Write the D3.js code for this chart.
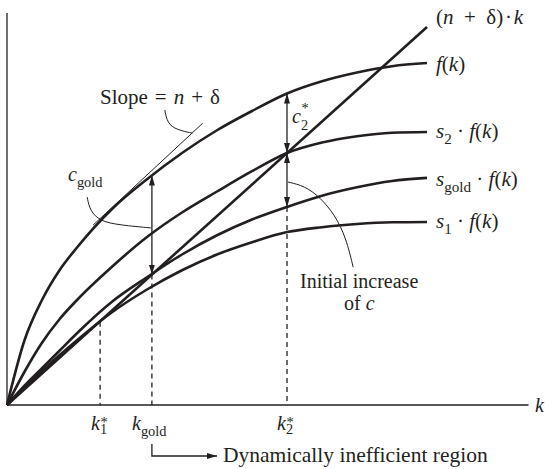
<!DOCTYPE html>
<html><head><meta charset="utf-8">
<script src="https://cdn.jsdelivr.net/npm/d3@7"></script>
<style>
body{margin:0;background:#fff}
text{font-family:"Liberation Serif","Times New Roman",serif;fill:#231f20}
</style>
</head><body>
<svg id="chart" width="545" height="469"></svg>
<script>
// ---- data (k on the horizontal axis, value on the vertical axis) ----
const kGrid     = [0, 0.5, 1, 1.5, 2, 3, 4, 5, 6, 7, 8, 9, 10, 11, 12];
const fVals     = [0, 1.85, 3.0, 3.85, 4.5, 5.6, 6.45, 7.2, 7.85, 8.4, 8.9, 9.25, 9.5, 9.68, 9.77];
const s2Vals    = [0, 0.95, 1.78, 2.45, 3.0, 3.95, 4.8, 5.5, 6.1, 6.68, 7.2, 7.5, 7.68, 7.78, 7.8];
const sGoldVals = [0, 0.55, 1.05, 1.55, 2.05, 2.95, 3.65, 4.3, 4.85, 5.3, 5.66, 5.98, 6.22, 6.4, 6.49];
const s1Vals    = [0, 0.5, 0.97, 1.42, 1.85, 2.65, 3.3, 3.85, 4.3, 4.65, 4.94, 5.08, 5.17, 5.22, 5.23];
const lineK     = [0, 12];
const lineVals  = [0, 10.8];           // (n + δ)·k
const tangentK  = [2.46, 5.59];
const tangentV  = [5.14, 8.05];        // slope = n + δ at k_gold
const k1Star = 2.66, kGold = 4.14, k2Star = 8;
const axisMaxK = 14.9, axisMaxV = 11.2;

// ---- scales ----
const svg = d3.select("#chart");
const x = d3.scaleLinear().domain([0, 12]).range([7, 427]);
const y = d3.scaleLinear().domain([0, 11.2]).range([405, 13]);
const ink = "#231f20";

// markers
const defs = svg.append("defs");
defs.append("marker").attr("id","ah").attr("viewBox","0 0 10 6")
  .attr("refX",10).attr("refY",3).attr("markerWidth",10).attr("markerHeight",6)
  .attr("markerUnits","userSpaceOnUse").attr("orient","auto-start-reverse")
  .append("path").attr("d","M0,0L10,3L0,6Z").attr("fill",ink);

// axes
svg.append("line").attr("x1",x(0)).attr("x2",x(0)).attr("y1",y(0)).attr("y2",y(axisMaxV))
  .attr("stroke",ink).attr("stroke-width",1.3);
svg.append("line").attr("x1",x(0)).attr("x2",x(axisMaxK)).attr("y1",y(0)).attr("y2",y(0))
  .attr("stroke",ink).attr("stroke-width",1.3);

// dashed guides
function interp(vals, k){
  for (let i=1;i<kGrid.length;i++){ if (k<=kGrid[i]){ const t=(k-kGrid[i-1])/(kGrid[i]-kGrid[i-1]); return vals[i-1]+t*(vals[i]-vals[i-1]); } }
  return vals[vals.length-1];
}
const lineAt = k => lineVals[1]/lineK[1]*k;
[[k1Star, interp(s1Vals,k1Star)], [kGold, lineAt(kGold)], [k2Star, interp(sGoldVals,k2Star)]].forEach(([k,v])=>{
  svg.append("line").attr("x1",x(k)).attr("x2",x(k)).attr("y1",y(v)).attr("y2",y(0))
    .attr("stroke",ink).attr("stroke-width",1.3).attr("stroke-dasharray","5,4");
});

// curves
const lineGen = d3.line().x((d)=>x(d[0])).y(d=>y(d[1])).curve(d3.curveMonotoneX);
[fVals, s2Vals, sGoldVals, s1Vals].forEach(vals=>{
  svg.append("path").attr("d", lineGen(kGrid.map((k,i)=>[k, vals[i]])))
    .attr("fill","none").attr("stroke",ink).attr("stroke-width",2.6);
});
svg.append("path").attr("d", d3.line().x(d=>x(d[0])).y(d=>y(d[1]))(lineK.map((k,i)=>[k,lineVals[i]])))
  .attr("fill","none").attr("stroke",ink).attr("stroke-width",2.6);
// tangent
svg.append("path").attr("d", d3.line().x(d=>x(d[0])).y(d=>y(d[1]))(tangentK.map((k,i)=>[k,tangentV[i]])))
  .attr("fill","none").attr("stroke",ink).attr("stroke-width",1);

// double arrows
function dArrow(k, v1, v2){
  svg.append("line").attr("x1",x(k)).attr("x2",x(k)).attr("y1",y(v1)).attr("y2",y(v2))
    .attr("stroke",ink).attr("stroke-width",1.3)
    .attr("marker-start","url(#ah)").attr("marker-end","url(#ah)");
}
dArrow(kGold, interp(fVals,kGold), lineAt(kGold));
dArrow(k2Star, interp(fVals,k2Star), lineAt(k2Star));
dArrow(k2Star, lineAt(k2Star), interp(sGoldVals,k2Star));

// leader curves (in data coordinates)
const leaderSlope = [[4.51,8.43],[4.58,8.05],[4.85,7.86],[5.29,7.77]];
const leaderGold  = [[2.29,5.94],[2.37,5.55],[2.66,5.25],[3.23,5.14],[4.11,5.06]];
const leaderInit  = [[8.03,6.37],[8.5,6.26],[8.94,5.94],[9.37,5.43],[9.69,4.77],[9.89,3.94]];
const lg = d3.line().x(d=>x(d[0])).y(d=>y(d[1])).curve(d3.curveBasis);
[leaderSlope, leaderGold, leaderInit].forEach(p=>{
  svg.append("path").attr("d", lg(p)).attr("fill","none").attr("stroke",ink).attr("stroke-width",1);
});

// rich text helper: segments [{t, it, sub}]
function rich(xp, yp, segs, size, anchor){
  const t = svg.append("text").attr("x",xp).attr("y",yp).attr("font-size",size).attr("text-anchor",anchor||"start");
  let shift = 0;
  segs.forEach(s=>{
    const sp = t.append("tspan").text(s.t);
    if (s.it) sp.attr("font-style","italic");
    let target = s.sub ? 6 : 0;
    if (target!==shift){ sp.attr("dy", target-shift); shift = target; }
    if (s.sub) sp.attr("font-size", size*0.72);
  });
  return t;
}
// stacked superscript * and subscript, in one text element
function kStar(xp, yp, letter, subTxt, size, supDy, subDy){
  const t = svg.append("text").attr("x",xp).attr("y",yp).attr("font-size",size);
  t.append("tspan").attr("font-style","italic").text(letter);
  const star = t.append("tspan").attr("font-size",size*0.72).attr("dx",0.5).attr("dy",supDy).text("*");
  const sw = star.node().getComputedTextLength();
  t.append("tspan").attr("font-size",size*0.72).attr("dx",-sw-0.5).attr("dy",subDy-supDy).text(subTxt);
}

const FS = 20, FR = 21;
const sp3 = "\u2004", en = "\u2002", hair = "\u200A";
// right labels
const rightLabels = [
  {v: 10.8, dy:-3, segs:[{t:"("},{t:"n",it:1},{t:en+"+"+en+"δ)"+hair+"·"+hair},{t:"k",it:1}]},
  {v: 9.77, dy:8, segs:[{t:"f",it:1},{t:"("},{t:"k",it:1},{t:")"}]},
  {v: 7.8,  dy:6, segs:[{t:"s",it:1},{t:"2",sub:1},{t:" · "},{t:"f",it:1},{t:"("},{t:"k",it:1},{t:")"}]},
  {v: 6.49, dy:8, segs:[{t:"s",it:1},{t:"gold",sub:1},{t:" · "},{t:"f",it:1},{t:"("},{t:"k",it:1},{t:")"}]},
  {v: 5.23, dy:6, segs:[{t:"s",it:1},{t:"1",sub:1},{t:" · "},{t:"f",it:1},{t:"("},{t:"k",it:1},{t:")"}]}
];
rightLabels.forEach(l=> rich(436, y(l.v)+l.dy, l.segs, FR));

rich(100, 104, [{t:"Slope"+sp3+"="+sp3},{t:"n",it:1},{t:sp3+"+"+sp3+"δ"}], FR);
rich(68, 181, [{t:"c",it:1},{t:"gold",sub:1}], FS);
kStar(292, 123, "c", "2", FS, -10, 7);
svg.append("text").attr("x",300).attr("y",288).attr("font-size",FS).text("Initial increase");
rich(344, 310, [{t:"of "},{t:"c",it:1}], FS);

// axis labels
svg.append("text").attr("x",535).attr("y",412).attr("font-size",FS).attr("font-style","italic").text("k");
kStar(91, 430, "k", "1", FS, -3, 4);
kStar(277, 430, "k", "2", FS, -3, 4);
rich(132, 430, [{t:"k",it:1},{t:"gold",sub:1}], FS);

// dynamically inefficient region bracket
svg.append("path").attr("d",`M${x(kGold)},444V456H217`).attr("fill","none").attr("stroke",ink)
  .attr("stroke-width",1.3).attr("marker-end","url(#ah)");
svg.append("text").attr("x",223).attr("y",462).attr("font-size",21.5).text("Dynamically inefficient region");
</script>
</body></html>
